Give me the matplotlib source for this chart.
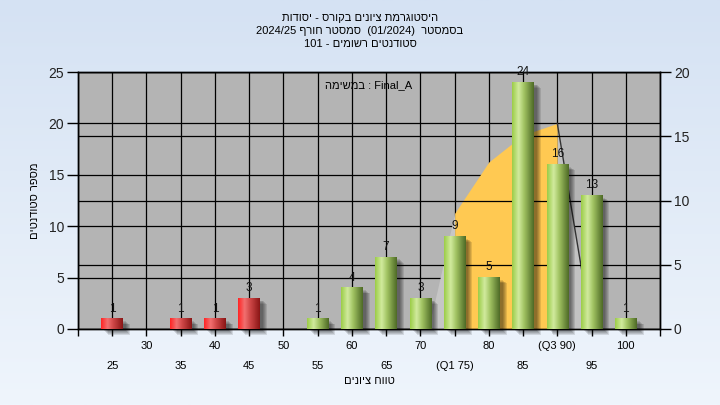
import re
import numpy as np
import matplotlib
matplotlib.use("Agg")
import matplotlib.pyplot as plt
from matplotlib.colors import LinearSegmentedColormap
from matplotlib.patches import Rectangle
from matplotlib.transforms import blended_transform_factory

plt.rcParams['font.family'] = ['Liberation Sans', 'DejaVu Sans']

# data
grades = [25, 30, 35, 40, 45, 50, 55, 60, 65, 70, 75, 80, 85, 90, 95, 100]
grade_labels = ["25", "30", "35", "40", "45", "50", "55", "60", "65", "70",
                "(Q1 75)", "80", "85", "(Q3 90)", "95", "100"]
counts = [1, 0, 1, 1, 3, 0, 1, 4, 7, 3, 9, 5, 24, 16, 13, 1]
pass_grade = 55

# distribution area (right axis)
curve_x = [71.2, 75, 80, 85, 90, 95]
curve_y = [0, 9, 13, 15.1, 16, 0]
q1, q3 = 75, 90

title_lines = ["היסטוגרמת ציונים בקורס - יסודות",
               "בסמסטר  (01/2024)  סמסטר חורף 2024/25",
               "סטודנטים רשומים - 101"]
task_text = "Final_A : במשימה"
x_title = "טווח ציונים"
y_title = "מספר סטודנטים"


def heb(s):
    # matplotlib has no bidi: flip the line, keep latin/digit runs LTR
    out = s[::-1]
    out = re.sub(r'[A-Za-z0-9_/.]+', lambda m: m.group(0)[::-1], out)
    return out.translate(str.maketrans('()', ')('))


fig = plt.figure(figsize=(7.2, 4.05), dpi=100)

# background gradient
bg = fig.add_axes([0, 0, 1, 1], zorder=-10)
bg.imshow(np.linspace(0, 1, 256).reshape(-1, 1), aspect='auto', extent=(0, 1, 0, 1),
          cmap=LinearSegmentedColormap.from_list('bg', ['#d5e2f3', '#eff5fc']))
bg.axis('off')

ax = fig.add_axes([78 / 720, 76 / 405, 582 / 720, 257 / 405])
ax.set_facecolor('#b4b4b4')
ax2 = ax.twinx()
ax3 = ax.twinx()

ax.set_xlim(20, 105)
ax.set_ylim(0, 25)
ax2.set_ylim(0, 20)
ax3.set_ylim(0, 25)

ax.set_xticks(np.arange(20, 106, 5))
ax.set_yticks(np.arange(0, 26, 5))
ax2.set_yticks(np.arange(0, 21, 5))
ax.grid(True, color='black', lw=0.9, zorder=0)
ax2.yaxis.grid(True, color='black', lw=0.9)
ax.tick_params(axis='x', length=5, width=1, labelbottom=False)
ax.tick_params(axis='y', length=8, width=1, labelsize=10, pad=2, labelcolor='#222222')
ax2.tick_params(axis='y', length=8, width=1, labelsize=10, pad=2, labelcolor='#222222')
for a in (ax, ax2):
    for sp in a.spines.values():
        sp.set_color('black')
        sp.set_linewidth(1)
ax3.axis('off')

# area between Q1 and Q3 in orange, tails lighter
cx = np.array(curve_x)
cy = np.array(curve_y)
ax2.fill_between(cx, cy, where=(cx >= q1) & (cx <= q3), color='#ffc952', lw=0, zorder=1)
ax2.fill_between(cx, cy, where=cx <= q1, color='#c6c6c6', lw=0, zorder=1)
ax2.fill_between(cx, cy, where=cx >= q3, color='#c2c2c2', lw=0, zorder=1)
ax2.plot(cx[-2:], cy[-2:], color='#333333', lw=1, zorder=1.5)

green = LinearSegmentedColormap.from_list('g', [(0, '#9ccd48'), (0.3, '#d1ea9e'),
                                                (0.55, '#a2c463'), (1, '#4e6a26')])
red = LinearSegmentedColormap.from_list('r', [(0, '#ff2424'), (0.3, '#f27070'),
                                              (0.55, '#d04848'), (1, '#8a1616')])
bar_w = 3.15
px_x = 5 / 34.3
px_y = 25 / 257
ramp = np.linspace(0, 1, 64).reshape(1, -1)

for g, c in zip(grades, counts):
    if c == 0:
        continue
    x0 = g - bar_w / 2
    for k in (7, 6, 5, 4, 3):
        ax3.add_patch(Rectangle((x0 + k * px_x, -k * px_y * 0.8), bar_w, c, color='black',
                                alpha=0.11, lw=0, clip_on=False, zorder=2))
    cmap = green if g >= pass_grade else red
    ax3.imshow(ramp, aspect='auto', extent=(x0, x0 + bar_w, 0, c), cmap=cmap,
               zorder=3, interpolation='bilinear')
    ax3.annotate(str(c), (g, c), xytext=(0, 3), textcoords='offset points',
                 ha='center', va='bottom', fontsize=8.5, color='#111111', zorder=4)

ax3.set_xlim(20, 105)
ax3.set_ylim(0, 25)

# x labels on two alternating rows
trans = blended_transform_factory(ax.transData, ax.transAxes)
for i, (g, lbl) in enumerate(zip(grades, grade_labels)):
    off = -37 if i % 2 == 0 else -17
    ax.annotate(lbl, (g, 0), xycoords=trans, xytext=(0, off), textcoords='offset pixels',
                ha='center', va='center', fontsize=8, annotation_clip=False)

for i, line in enumerate(title_lines):
    fig.text(0.5, 1 - (18 + 13 * i) / 405, heb(line), ha='center', va='center', fontsize=8)
ax3.text(0.5, 0.95, heb(task_text), transform=ax.transAxes, ha='center', va='center',
         fontsize=8, zorder=5)
ax.text(0.5, -0.202, heb(x_title), transform=ax.transAxes, ha='center', va='center',
        fontsize=8)
ax.text(-0.074, 0.5, heb(y_title), transform=ax.transAxes, ha='center', va='center',
        rotation=90, fontsize=8)

fig.savefig("out.png", dpi=100)
